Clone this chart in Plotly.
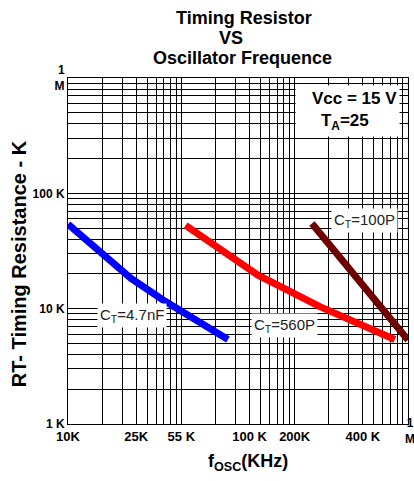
import plotly.graph_objects as go

# ---- data ----
ct47_f = [10e3, 36e3, 69e3, 258e3]
ct47_r = [54e3, 18.3e3, 11.9e3, 5.4e3]
ct560_f = [109e3, 475e3, 1.67e6, 7.65e6]
ct560_r = [52.8e3, 19.5e3, 10.4e3, 5.4e3]
ct100_f = [1.42e6, 10e6]
ct100_r = [54.7e3, 5.34e3]

x_tickvals = [1e4, 4e4, 1e5, 4e5, 1e6, 4e6]
x_ticktext = ["10K", "25K", "55 K", "100 K", "200K", "400 K"]
y_tickvals = [1e3, 1e4, 1e5, 1e6]
y_ticktext = ["1 K", "10 K", "100 K", "1<br>M"]

x_minor = [k * 10 ** d for d in (4, 5, 6) for k in range(1, 10)] + [1e7]
y_minor = [k * 10 ** d for d in (3, 4, 5) for k in range(1, 10)] + [1e6]

FONT = "Liberation Sans, Arial, sans-serif"

# plot area in pixels (for placing free text)
L, R, T, B = 68, 408, 77.5, 424


def px(xp):
    return (xp - L) / (R - L)


def py(yp):
    return (B - yp) / (B - T)


fig = go.Figure()
for xs, ys, col, name in [
    (ct47_f, ct47_r, "#0000FF", "CT=4.7nF"),
    (ct560_f, ct560_r, "#FF0000", "CT=560P"),
    (ct100_f, ct100_r, "#6E0000", "CT=100P"),
]:
    fig.add_trace(go.Scatter(x=xs, y=ys, mode="lines", name=name,
                             line=dict(color=col, width=7), showlegend=False))

grid = dict(showgrid=True, gridcolor="#000000", gridwidth=1)
fig.update_xaxes(type="log", range=[4, 7], tickmode="array",
                 tickvals=x_tickvals, ticktext=x_ticktext, ticks="",
                 tickfont=dict(family=FONT, size=13, color="#000", weight="bold"),
                 showline=True, linecolor="#000", linewidth=1, mirror=True,
                 minor=dict(tickmode="array", tickvals=x_minor, ticks="", **grid),
                 zeroline=False, **grid)
fig.update_yaxes(type="log", range=[3, 6], tickmode="array",
                 tickvals=y_tickvals, ticktext=y_ticktext, ticks="",
                 tickfont=dict(family=FONT, size=12, color="#000", weight="bold"),
                 showline=True, linecolor="#000", linewidth=1, mirror=True,
                 minor=dict(tickmode="array", tickvals=y_minor, ticks="", **grid),
                 zeroline=False, **grid)

ann_font = dict(family=FONT, size=15, color="#222")
for xv, yv, txt in [(4.563, 3.944, "C<sub>T</sub>=4.7nF"),
                    (5.913, 3.857, "C<sub>T</sub>=560P"),
                    (6.619, 4.766, "C<sub>T</sub>=100P")]:
    fig.add_annotation(x=xv, y=yv, xref="x", yref="y", showarrow=False,
                       xanchor="center", yanchor="middle",
                       text=txt, font=ann_font, bgcolor="white", borderpad=2)

# condition box
fig.add_annotation(x=px(347.5), y=py(111), xref="paper", yref="paper",
                   xanchor="center", yanchor="middle",
                   showarrow=False, bgcolor="white", borderpad=0,
                   width=103, height=50,
                   text="<b>&nbsp;&nbsp;&nbsp;Vcc = 15 V<br>T<sub>A</sub>=25&nbsp;</b>",
                   font=dict(family=FONT, size=17, color="#000"))

# x-axis end label "1 M"
fig.add_annotation(x=px(410), y=py(431), xref="paper", yref="paper",
                   xanchor="center", yanchor="middle", showarrow=False,
                   text="<b>1<br>M</b>",
                   font=dict(family=FONT, size=12, color="#000"))

# axis titles
fig.add_annotation(x=px(19), y=py(264), xref="paper", yref="paper",
                   xanchor="center", yanchor="middle",
                   showarrow=False, textangle=-90,
                   text="<b>RT- Timing Resistance - K</b>",
                   font=dict(family=FONT, size=20, color="#000"))
fig.add_annotation(x=px(248), y=py(463), xref="paper", yref="paper",
                   xanchor="center", yanchor="middle",
                   showarrow=False,
                   text="<b>f<sub>OSC</sub>(KHz)</b>",
                   font=dict(family=FONT, size=18, color="#000"))

# chart title (three lines as in the reference)
for xc, yc, txt in [(244, 17, "Timing Resistor"),
                    (231, 37.5, "VS"),
                    (243, 57, "Oscillator Frequence")]:
    fig.add_annotation(x=px(xc), y=py(yc), xref="paper", yref="paper",
                       xanchor="center", yanchor="middle", showarrow=False,
                       text="<b>" + txt + "</b>",
                       font=dict(family=FONT, size=18, color="#000"))

fig.update_layout(
    width=414, height=481,
    margin=dict(l=L, r=414 - R, t=T, b=481 - B),
    paper_bgcolor="white", plot_bgcolor="white",
)

fig.write_html("out.html")
